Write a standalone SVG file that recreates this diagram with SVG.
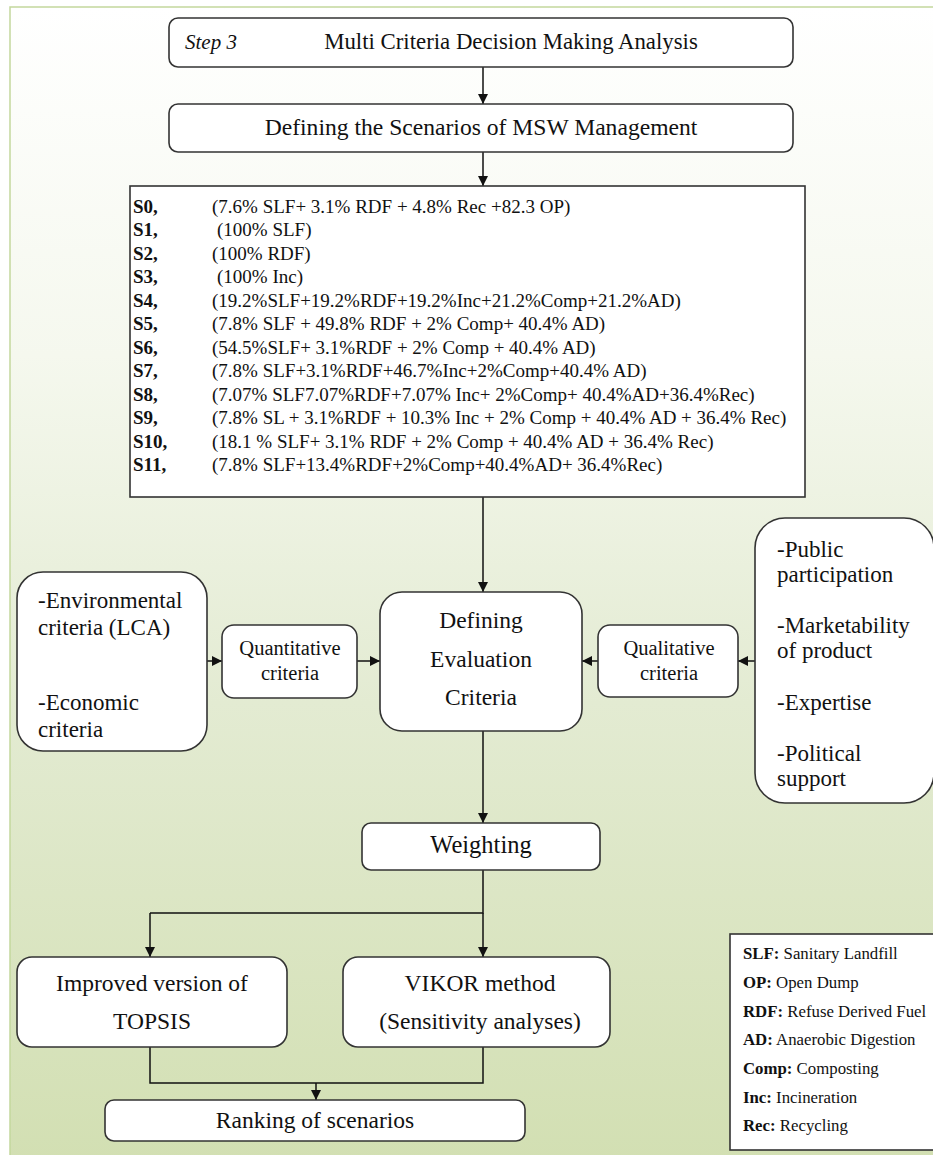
<svg xmlns="http://www.w3.org/2000/svg" width="933" height="1155" viewBox="0 0 933 1155">
<defs>
<linearGradient id="bg" x1="0" y1="0" x2="0" y2="1">
<stop offset="0" stop-color="#ffffff"/>
<stop offset="0.3" stop-color="#f5f8ee"/>
<stop offset="0.6" stop-color="#e3ebd2"/>
<stop offset="1" stop-color="#d2dfb2"/>
</linearGradient>
<marker id="ah" markerUnits="userSpaceOnUse" markerWidth="10" markerHeight="10" refX="10" refY="5" orient="auto" viewBox="0 0 10 10">
<path d="M0,0 L10,5 L0,10 z" fill="#111"/>
</marker>
<style>
.box{fill:#fff;stroke:#333;stroke-width:1.6}
.t{font-family:"Liberation Serif","Times New Roman",serif;fill:#111}
.c{text-anchor:middle}
.ln{fill:none;stroke:#111;stroke-width:1.5}
.arr{fill:none;stroke:#111;stroke-width:1.5;marker-end:url(#ah)}
.sc{font-size:19px}
.lg{font-size:16.8px}
.big{font-size:23.5px}
.side{font-size:23px}
.mid{font-size:20.5px}
</style>
</defs>
<rect x="0" y="0" width="933" height="1155" fill="#fff"/>
<rect x="10" y="7" width="930" height="1160" fill="url(#bg)" stroke="#c3d89d" stroke-width="1.5"/>

<g id="connectors">
<line class="arr" x1="483" y1="67" x2="483" y2="104"/>
<line class="arr" x1="483" y1="152" x2="483" y2="186"/>
<line class="arr" x1="483" y1="497" x2="483" y2="592"/>
<line class="arr" x1="207" y1="661" x2="222" y2="661"/>
<line class="arr" x1="357" y1="661" x2="380" y2="661"/>
<line class="arr" x1="598" y1="661" x2="582" y2="661"/>
<line class="arr" x1="755" y1="661" x2="738" y2="661"/>
<line class="arr" x1="483" y1="731" x2="483" y2="823"/>
<polyline class="ln" points="483,870 483,913 150,913"/>
<line class="arr" x1="150" y1="913" x2="150" y2="957"/>
<line class="arr" x1="483" y1="913" x2="483" y2="957"/>
<polyline class="ln" points="150,1047 150,1083 483,1083 483,1047"/>
<line class="arr" x1="316" y1="1083" x2="316" y2="1100"/>
</g>

<g id="step3">
<rect class="box" x="169" y="18" width="624" height="49" rx="9"/>
<text class="t" x="185" y="49" font-size="21" font-style="italic">Step 3</text>
<text class="t c" x="511" y="49" font-size="22.8">Multi Criteria Decision Making Analysis</text>
</g>

<g id="scenarios-title">
<rect class="box" x="169" y="104" width="624" height="48" rx="9"/>
<text class="t c" x="481" y="135" font-size="23.6">Defining the Scenarios of MSW Management</text>
</g>

<g id="scenarios">
<rect class="box" x="130" y="186" width="675" height="311"/>
<g class="t sc" font-weight="bold">
<text x="133" y="213">S0,</text>
<text x="133" y="236">S1,</text>
<text x="133" y="260">S2,</text>
<text x="133" y="283">S3,</text>
<text x="133" y="307">S4,</text>
<text x="133" y="330">S5,</text>
<text x="133" y="354">S6,</text>
<text x="133" y="377">S7,</text>
<text x="133" y="401">S8,</text>
<text x="133" y="424">S9,</text>
<text x="133" y="448">S10,</text>
<text x="133" y="471">S11,</text>
</g>
<g class="t sc">
<text x="212" y="213">(7.6% SLF+ 3.1% RDF + 4.8% Rec +82.3 OP)</text>
<text x="217" y="236">(100% SLF)</text>
<text x="212" y="260">(100% RDF)</text>
<text x="217" y="283">(100% Inc)</text>
<text x="212" y="307">(19.2%SLF+19.2%RDF+19.2%Inc+21.2%Comp+21.2%AD)</text>
<text x="212" y="330">(7.8% SLF + 49.8% RDF + 2% Comp+ 40.4% AD)</text>
<text x="212" y="354">(54.5%SLF+ 3.1%RDF + 2% Comp + 40.4% AD)</text>
<text x="212" y="377">(7.8% SLF+3.1%RDF+46.7%Inc+2%Comp+40.4% AD)</text>
<text x="212" y="401">(7.07% SLF7.07%RDF+7.07% Inc+ 2%Comp+ 40.4%AD+36.4%Rec)</text>
<text x="212" y="424">(7.8% SL + 3.1%RDF + 10.3% Inc + 2% Comp + 40.4% AD + 36.4% Rec)</text>
<text x="212" y="448">(18.1 % SLF+ 3.1% RDF + 2% Comp + 40.4% AD + 36.4% Rec)</text>
<text x="212" y="471">(7.8% SLF+13.4%RDF+2%Comp+40.4%AD+ 36.4%Rec)</text>
</g>
</g>

<g id="quant-sources">
<rect class="box" x="17" y="572" width="190" height="179" rx="26"/>
<g class="t side">
<text x="38" y="608">-Environmental</text>
<text x="38" y="635">criteria (LCA)</text>
<text x="38" y="710">-Economic</text>
<text x="38" y="737">criteria</text>
</g>
</g>

<g id="quantitative">
<rect class="box" x="222" y="625" width="135" height="73" rx="12"/>
<text class="t c mid" x="290" y="655">Quantitative</text>
<text class="t c mid" x="290" y="680">criteria</text>
</g>

<g id="evaluation">
<rect class="box" x="380" y="592" width="202" height="139" rx="22"/>
<text class="t c big" x="481" y="628">Defining</text>
<text class="t c big" x="481" y="667">Evaluation</text>
<text class="t c big" x="481" y="705">Criteria</text>
</g>

<g id="qualitative">
<rect class="box" x="598" y="625" width="140" height="72" rx="12"/>
<text class="t c mid" x="669" y="655">Qualitative</text>
<text class="t c mid" x="669" y="680">criteria</text>
</g>

<g id="qual-sources">
<rect class="box" x="755" y="518" width="179" height="285" rx="30"/>
<g class="t side">
<text x="777" y="557">-Public</text>
<text x="777" y="582">participation</text>
<text x="777" y="633">-Marketability</text>
<text x="777" y="658">of product</text>
<text x="777" y="710">-Expertise</text>
<text x="777" y="761">-Political</text>
<text x="777" y="786">support</text>
</g>
</g>

<g id="weighting">
<rect class="box" x="362" y="823" width="238" height="47" rx="9"/>
<text class="t c" x="481" y="853" font-size="24.5">Weighting</text>
</g>

<g id="topsis">
<rect class="box" x="17" y="957" width="270" height="90" rx="15"/>
<text class="t c big" x="152" y="991">Improved version of</text>
<text class="t c big" x="152" y="1029">TOPSIS</text>
</g>

<g id="vikor">
<rect class="box" x="343" y="957" width="267" height="90" rx="15"/>
<text class="t c big" x="480" y="991">VIKOR method</text>
<text class="t c big" x="480" y="1029">(Sensitivity analyses)</text>
</g>

<g id="ranking">
<rect class="box" x="105" y="1100" width="420" height="41" rx="9"/>
<text class="t c big" x="315" y="1128">Ranking of scenarios</text>
</g>

<g id="legend">
<rect class="box" x="730" y="934" width="215" height="216"/>
<g class="t lg">
<text x="743" y="959"><tspan font-weight="bold">SLF:</tspan> Sanitary Landfill</text>
<text x="743" y="988"><tspan font-weight="bold">OP:</tspan> Open Dump</text>
<text x="743" y="1017"><tspan font-weight="bold">RDF:</tspan> Refuse Derived Fuel</text>
<text x="743" y="1045"><tspan font-weight="bold">AD:</tspan> Anaerobic Digestion</text>
<text x="743" y="1074"><tspan font-weight="bold">Comp:</tspan> Composting</text>
<text x="743" y="1103"><tspan font-weight="bold">Inc:</tspan> Incineration</text>
<text x="743" y="1131"><tspan font-weight="bold">Rec:</tspan> Recycling</text>
</g>
</g>
</svg>
